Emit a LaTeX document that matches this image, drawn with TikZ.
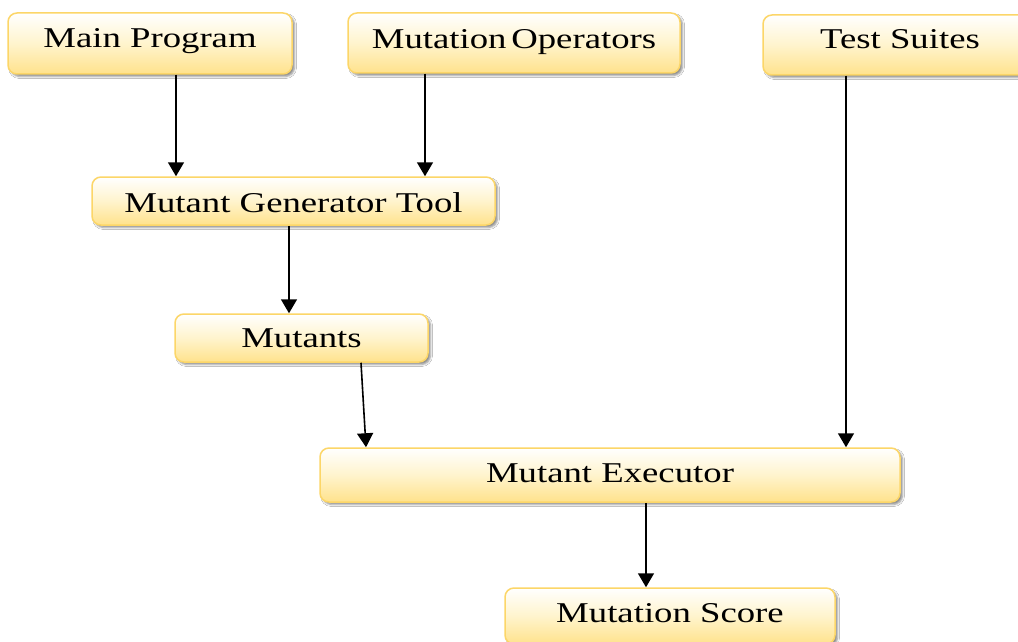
\documentclass[tikz,border=0pt]{standalone}
\usepackage{fontspec}
\setmainfont[FakeStretch=1.28]{Liberation Serif}
\usetikzlibrary{arrows.meta,shadows.blur}

\definecolor{boxedge}{RGB}{252,214,104}
\definecolor{boxbottom}{RGB}{255,226,140}

\tikzset{
  stepbox/.style={
    draw=boxedge, line width=1.5pt, rounded corners=9pt,
    top color=white, bottom color=boxbottom, middle color={rgb,255:red,255;green,244;blue,205},
    blur shadow={shadow xshift=2.5pt, shadow yshift=-2.5pt,
                 shadow blur radius=2pt, shadow opacity=45},
    font=\fontsize{28.7pt}{34pt}\selectfont,
    text height=0.86em, text depth=0.09em, inner sep=0pt,
    text=black
  },
  flow/.style={
    draw=black, line width=1.6pt,
    -{Triangle[width=16pt,length=14pt]}
  }
}
% lowers a label inside its box without changing the box
\newcommand{\lowered}[2]{\raisebox{-#1}{#2}}

\begin{document}
\begin{tikzpicture}[x=1pt,y=-1pt]
  \useasboundingbox[fill=white] (0,0) rectangle (1018,642);

  % inputs
  \node[stepbox, minimum width=284pt, minimum height=61pt] (main) at (150,43.5) {Main Program};
  \node[stepbox, minimum width=332pt, minimum height=60pt] (ops)  at (514,43)   {\lowered{2pt}{Mutation\,Operators}};
  \node[stepbox, minimum width=274pt, minimum height=60pt] (test) at (900,45)   {Test Suites};

  % generation and execution
  \node[stepbox, minimum width=403pt, minimum height=48pt] (gen)     at (293.5,201) {\lowered{7.5pt}{Mutant Generator Tool}};
  \node[stepbox, minimum width=253pt, minimum height=48pt] (mutants) at (301.5,338) {\lowered{6pt}{Mutants}};
  \node[stepbox, minimum width=580pt, minimum height=54pt] (exec)    at (610,475)   {\lowered{3.5pt}{Mutant Executor}};
  \node[stepbox, minimum width=330pt, minimum height=56pt] (score)   at (670,616)   {\lowered{2.5pt}{Mutation Score}};

  % connectors
  \draw[flow] (main.south -| 176,0) -- (gen.north -| 176,0);
  \draw[flow] (ops.south -| 425,0)  -- (gen.north -| 425,0);
  \draw[flow] (gen.south -| 289,0)  -- (mutants.north -| 289,0);
  \draw[flow] (mutants.south -| 361,0) -- (exec.north -| 366,0);
  \draw[flow] (test.south -| 846,0) -- (exec.north -| 846,0);
  \draw[flow] (exec.south -| 646,0) -- (score.north -| 646,0);
\end{tikzpicture}
\end{document}
